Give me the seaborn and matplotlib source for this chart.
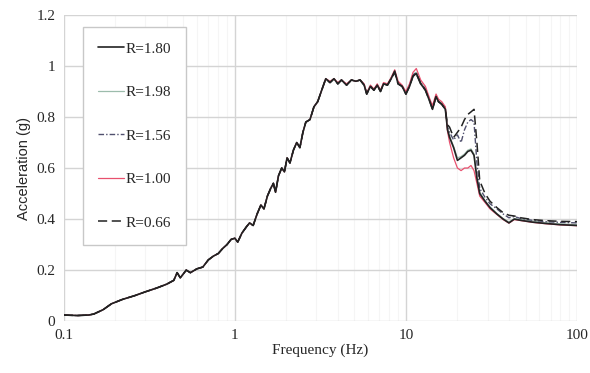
import numpy as np
import pandas as pd
import matplotlib
matplotlib.use("Agg")
import matplotlib.pyplot as plt
import seaborn as sns
from matplotlib.ticker import FixedLocator, NullFormatter

# frequency grid (Hz)
freq = [0.10, 0.12, 0.14, 0.15, 0.17, 0.19, 0.22, 0.26, 0.30, 0.35,
        0.40, 0.44, 0.46, 0.48, 0.50, 0.52, 0.55, 0.60, 0.65, 0.70,
        0.75, 0.80, 0.85, 0.90, 0.95, 1.00, 1.04, 1.10, 1.17, 1.22,
        1.28, 1.35, 1.42, 1.48, 1.55, 1.62, 1.68, 1.73, 1.80, 1.88,
        1.95, 2.02, 2.10, 2.20, 2.30, 2.40, 2.50, 2.60, 2.75, 2.90,
        3.05, 3.20, 3.40, 3.60, 3.80, 4.00, 4.20, 4.50, 4.80, 5.10,
        5.40, 5.70, 5.90, 6.20, 6.50, 6.80, 7.10, 7.40, 7.80, 8.20,
        8.60, 9.00, 9.50, 10.0, 10.5, 11.0, 11.5, 12.2, 13.0, 13.8,
        14.3, 15.0, 15.5, 16.2, 17.0, 17.5, 18.0, 19.0, 20.0, 21.0,
        22.0, 23.0, 24.0, 25.0, 26.0, 27.0, 29.0, 31.0, 34.0, 37.0,
        40.0, 43.0, 47.0, 55.0, 65.0, 80.0, 100.0]

r180 = [0.024, 0.022, 0.024, 0.028, 0.045, 0.068, 0.085, 0.100, 0.115, 0.130,
        0.145, 0.160, 0.190, 0.170, 0.185, 0.200, 0.190, 0.205, 0.212, 0.240,
        0.255, 0.265, 0.285, 0.300, 0.320, 0.325, 0.310, 0.345, 0.370, 0.385,
        0.375, 0.420, 0.455, 0.440, 0.490, 0.520, 0.540, 0.505, 0.570, 0.600,
        0.585, 0.640, 0.620, 0.670, 0.700, 0.680, 0.740, 0.780, 0.790, 0.840,
        0.860, 0.900, 0.950, 0.935, 0.950, 0.930, 0.945, 0.925, 0.945, 0.940,
        0.945, 0.925, 0.890, 0.920, 0.905, 0.925, 0.900, 0.930, 0.925, 0.950,
        0.980, 0.930, 0.920, 0.890, 0.920, 0.960, 0.970, 0.930, 0.905, 0.860,
        0.830, 0.880, 0.860, 0.850, 0.830, 0.750, 0.720, 0.680, 0.630, 0.640,
        0.650, 0.665, 0.670, 0.650, 0.560, 0.500, 0.470, 0.445, 0.420, 0.400,
        0.385, 0.400, 0.395, 0.388, 0.383, 0.378, 0.375]

r198 = [0.024, 0.022, 0.024, 0.028, 0.045, 0.068, 0.085, 0.100, 0.115, 0.130,
        0.145, 0.160, 0.190, 0.170, 0.185, 0.200, 0.190, 0.205, 0.212, 0.240,
        0.255, 0.265, 0.285, 0.300, 0.320, 0.325, 0.310, 0.345, 0.370, 0.385,
        0.375, 0.420, 0.455, 0.440, 0.490, 0.520, 0.540, 0.505, 0.570, 0.600,
        0.585, 0.640, 0.620, 0.670, 0.700, 0.680, 0.740, 0.780, 0.790, 0.840,
        0.860, 0.900, 0.950, 0.935, 0.950, 0.930, 0.945, 0.925, 0.945, 0.940,
        0.945, 0.925, 0.895, 0.920, 0.905, 0.925, 0.905, 0.930, 0.925, 0.955,
        0.975, 0.935, 0.920, 0.895, 0.925, 0.965, 0.975, 0.935, 0.910, 0.865,
        0.835, 0.885, 0.865, 0.855, 0.835, 0.755, 0.725, 0.685, 0.640, 0.645,
        0.655, 0.670, 0.675, 0.655, 0.565, 0.505, 0.472, 0.448, 0.422, 0.402,
        0.388, 0.402, 0.398, 0.392, 0.386, 0.381, 0.378]

r156 = [0.024, 0.022, 0.024, 0.028, 0.045, 0.068, 0.085, 0.100, 0.115, 0.130,
        0.145, 0.160, 0.190, 0.170, 0.185, 0.200, 0.190, 0.205, 0.212, 0.240,
        0.255, 0.265, 0.285, 0.300, 0.320, 0.325, 0.310, 0.345, 0.370, 0.385,
        0.375, 0.420, 0.455, 0.440, 0.490, 0.520, 0.540, 0.505, 0.570, 0.600,
        0.585, 0.640, 0.620, 0.670, 0.700, 0.680, 0.740, 0.780, 0.790, 0.840,
        0.860, 0.900, 0.950, 0.935, 0.950, 0.930, 0.945, 0.925, 0.945, 0.940,
        0.945, 0.925, 0.890, 0.920, 0.905, 0.925, 0.900, 0.930, 0.925, 0.950,
        0.975, 0.930, 0.920, 0.890, 0.925, 0.965, 0.975, 0.935, 0.910, 0.865,
        0.835, 0.880, 0.860, 0.850, 0.830, 0.760, 0.740, 0.710, 0.730, 0.700,
        0.750, 0.780, 0.790, 0.780, 0.620, 0.520, 0.485, 0.460, 0.440, 0.420,
        0.405, 0.410, 0.402, 0.395, 0.390, 0.387, 0.385]

r100 = [0.024, 0.022, 0.024, 0.028, 0.045, 0.068, 0.085, 0.100, 0.115, 0.130,
        0.145, 0.160, 0.190, 0.170, 0.185, 0.200, 0.190, 0.205, 0.212, 0.240,
        0.255, 0.265, 0.285, 0.300, 0.320, 0.325, 0.310, 0.345, 0.370, 0.385,
        0.375, 0.420, 0.455, 0.440, 0.490, 0.520, 0.540, 0.505, 0.570, 0.600,
        0.585, 0.640, 0.620, 0.670, 0.700, 0.680, 0.740, 0.780, 0.790, 0.840,
        0.860, 0.900, 0.950, 0.940, 0.950, 0.935, 0.945, 0.930, 0.945, 0.940,
        0.945, 0.930, 0.895, 0.925, 0.910, 0.930, 0.905, 0.935, 0.930, 0.955,
        0.985, 0.940, 0.925, 0.900, 0.930, 0.975, 0.990, 0.945, 0.920, 0.870,
        0.845, 0.890, 0.870, 0.860, 0.840, 0.745, 0.700, 0.640, 0.600, 0.590,
        0.600, 0.600, 0.610, 0.590, 0.540, 0.490, 0.465, 0.440, 0.418, 0.398,
        0.384, 0.398, 0.394, 0.387, 0.382, 0.377, 0.374]

r066 = [0.024, 0.022, 0.024, 0.028, 0.045, 0.068, 0.085, 0.100, 0.115, 0.130,
        0.145, 0.160, 0.190, 0.170, 0.185, 0.200, 0.190, 0.205, 0.212, 0.240,
        0.255, 0.265, 0.285, 0.300, 0.320, 0.325, 0.310, 0.345, 0.370, 0.385,
        0.375, 0.420, 0.455, 0.440, 0.490, 0.520, 0.540, 0.505, 0.570, 0.600,
        0.585, 0.640, 0.620, 0.670, 0.700, 0.680, 0.740, 0.780, 0.790, 0.840,
        0.860, 0.900, 0.950, 0.935, 0.950, 0.930, 0.945, 0.925, 0.945, 0.940,
        0.945, 0.925, 0.890, 0.920, 0.905, 0.925, 0.900, 0.930, 0.925, 0.950,
        0.975, 0.930, 0.920, 0.890, 0.920, 0.960, 0.970, 0.930, 0.905, 0.860,
        0.830, 0.880, 0.860, 0.850, 0.830, 0.770, 0.760, 0.720, 0.740, 0.760,
        0.790, 0.810, 0.820, 0.830, 0.700, 0.550, 0.500, 0.470, 0.445, 0.425,
        0.415, 0.412, 0.405, 0.398, 0.394, 0.391, 0.390]

series_labels = ["R=1.80", "R=1.98", "R=1.56", "R=1.00", "R=0.66"]
x_ticks = [0.1, 1, 10, 100]
x_ticklabels = ["0.1", "1", "10", "100"]
y_ticks = [0, 0.2, 0.4, 0.6, 0.8, 1.0, 1.2]
y_ticklabels = ["0", "0.2", "0.4", "0.6", "0.8", "1", "1.2"]

sns.set_style("white")
plt.rcParams["font.family"] = ["Liberation Serif", "DejaVu Serif"]

fig, ax = plt.subplots(figsize=(5.9, 3.73), dpi=100)
fig.subplots_adjust(left=0.108, right=0.978, bottom=0.139, top=0.960)

styles = [
    dict(color="#222222", linestyle="-", linewidth=1.2),
    dict(color="#9cbcac", linestyle="-", linewidth=0.9),
    dict(color="#50506e", linestyle=(0, (4, 1.5, 1, 1.5)), linewidth=1.0),
    dict(color="#e8506e", linestyle="-", linewidth=0.9),
    dict(color="#222222", linestyle=(0, (6, 3)), linewidth=1.1),
]
all_vals = [r180, r198, r156, r100, r066]
# black reference line last so it sits on top
order = [1, 2, 3, 4, 0]
for i in order:
    sns.lineplot(x=freq, y=all_vals[i], ax=ax, label=series_labels[i], **styles[i])

ax.set_xscale("log")
ax.set_xlim(0.1, 100)
ax.set_ylim(0, 1.2)
ax.set_xticks(x_ticks)
ax.set_xticklabels(x_ticklabels)
ax.xaxis.set_minor_locator(FixedLocator([d * k for d in (0.1, 1, 10) for k in range(2, 10)]))
ax.xaxis.set_minor_formatter(NullFormatter())
ax.set_yticks(y_ticks)
ax.set_yticklabels(y_ticklabels)
ax.grid(True, which="major", color="#d4d4d4", linewidth=1.0)
ax.grid(True, which="minor", axis="x", color="#f5f5f5", linewidth=0.8)
ax.set_axisbelow(True)
for s in ax.spines.values():
    s.set_visible(False)
ax.tick_params(axis="both", length=0, labelsize=11, pad=6)

ax.set_xlabel("Frequency (Hz)", fontsize=11, labelpad=1)
ax.set_ylabel("Acceleration (g)", fontsize=10.5, family=["Liberation Sans", "DejaVu Sans"], labelpad=4)

h, l = ax.get_legend_handles_labels()
lookup = dict(zip(l, h))
leg = ax.legend([lookup[s] for s in series_labels], series_labels,
                loc="upper left", bbox_to_anchor=(0.037, 0.961), borderaxespad=0,
                fontsize=11, handlelength=1.7, handletextpad=0.1,
                labelspacing=1.95, borderpad=1.0, frameon=True,
                fancybox=False, edgecolor="#c8c8c8", framealpha=1)
leg.get_frame().set_linewidth(1.0)

fig.savefig("out.png", dpi=100)
